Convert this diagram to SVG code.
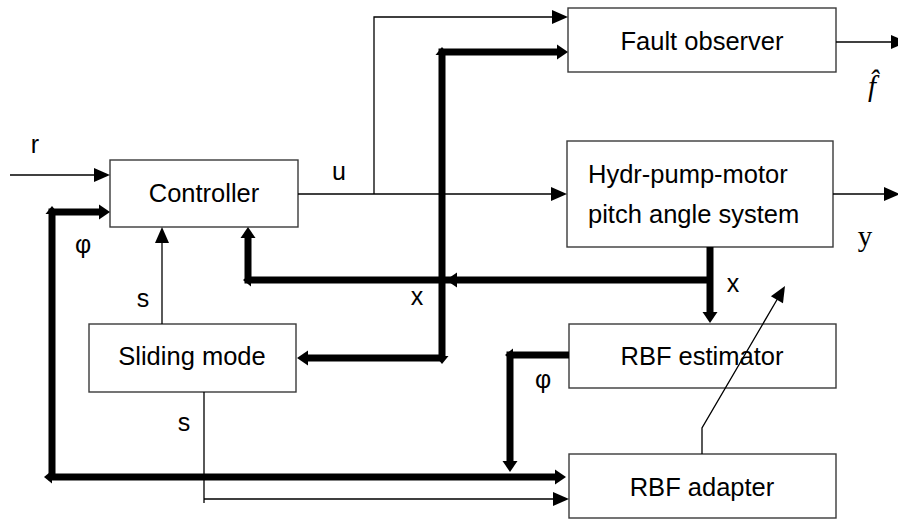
<svg xmlns="http://www.w3.org/2000/svg" xmlns:xlink="http://www.w3.org/1999/xlink" width="898" height="519" viewBox="0 0 898 519">
<style>
  .box { fill: #ffffff; stroke: #3a3a3a; stroke-width: 1.4; }
  .lbl { font-family: "Liberation Sans", Arial, sans-serif; font-size: 25.5px; fill: #000; }
  .mid { text-anchor: middle; }
  .sym { font-family: "Liberation Sans", Arial, sans-serif; font-size: 25px; fill: #000; text-anchor: middle; }
  .ser { font-family: "Liberation Serif", "Times New Roman", serif; font-size: 29px; fill: #000; text-anchor: middle; }
  .thin { fill: none; stroke: #000; stroke-width: 1.3; }
  .thick { fill: none; stroke: #000; stroke-width: 7; stroke-linejoin: miter; }
  .ah { fill: #000; }
</style>
<defs>
  <path id="tah" d="M-16,-7 L0,0 L-16,7 Z"/>
  <path id="kah" d="M-11,-7.5 L0,0 L-11,7.5 Z"/>
  <path id="stub" d="M-8,-6.5 L0,0 L-8,6.5 Z"/>
</defs>
<rect width="898" height="519" fill="#ffffff"/>

<g id="controller">
  <rect class="box" x="110" y="160" width="188" height="67"/>
  <text class="lbl mid" x="204" y="202">Controller</text>
</g>
<g id="fault-observer">
  <rect class="box" x="568" y="8" width="268" height="64"/>
  <text class="lbl mid" x="702" y="50">Fault observer</text>
</g>
<g id="hydr-system">
  <rect class="box" x="567" y="141" width="266" height="106"/>
  <text class="lbl" x="588" y="183">Hydr-pump-motor</text>
  <text class="lbl" x="588" y="223">pitch angle system</text>
</g>
<g id="sliding-mode">
  <rect class="box" x="89" y="324" width="207" height="68"/>
  <text class="lbl mid" x="192" y="365">Sliding mode</text>
</g>
<g id="rbf-estimator">
  <rect class="box" x="569" y="324" width="267" height="64"/>
  <text class="lbl mid" x="702" y="365">RBF estimator</text>
</g>
<g id="rbf-adapter">
  <rect class="box" x="569" y="454" width="267" height="64"/>
  <text class="lbl mid" x="702" y="496">RBF adapter</text>
</g>

<g id="connectors">
  <!-- thin connectors -->
  <path class="thin" d="M10,175 H96"/>
  <use href="#tah" class="ah" transform="translate(110,175)"/>
  <path class="thin" d="M298,194 H553"/>
  <use href="#tah" class="ah" transform="translate(567,194)"/>
  <path class="thin" d="M374,194 V17 H554"/>
  <use href="#tah" class="ah" transform="translate(568,17)"/>
  <path class="thin" d="M836,42 H893"/>
  <use href="#tah" class="ah" transform="translate(907,42)"/>
  <path class="thin" d="M833,194 H886"/>
  <use href="#tah" class="ah" transform="translate(900,194)"/>
  <path class="thin" d="M162,324 V242"/>
  <use href="#tah" class="ah" transform="translate(162,227) rotate(-90)"/>
  <path class="thin" d="M204,392 V503 M204,499 H555"/>
  <use href="#tah" class="ah" transform="translate(569,499)"/>
  <path class="thin" d="M702,454 V428 L778,298"/>
  <use href="#tah" class="ah" transform="translate(785,286) rotate(-59.7)"/>

  <!-- thick connectors -->
  <path class="thick" d="M710,247 V313"/>
  <use href="#kah" class="ah" transform="translate(710,323) rotate(90)"/>
  <path class="thick" d="M710,280 H248 V238"/>
  <use href="#kah" class="ah" transform="translate(248,227) rotate(-90)"/>
  <use href="#kah" class="ah" transform="translate(446,280) rotate(180)"/>
  <use href="#stub" class="ah" transform="translate(243,280) rotate(180)"/>
  <path class="thick" d="M442,358 V52 H558"/>
  <use href="#kah" class="ah" transform="translate(568,52)"/>
  <path class="thick" d="M442,358 H307"/>
  <use href="#kah" class="ah" transform="translate(297,358) rotate(180)"/>
  <use href="#stub" class="ah" transform="translate(442,47) rotate(-90)"/>
  <use href="#stub" class="ah" transform="translate(442,364) rotate(90)"/>
  <path class="thick" d="M569,355 H510 V462"/>
  <use href="#kah" class="ah" transform="translate(510,472) rotate(90)"/>
  <use href="#stub" class="ah" transform="translate(505,355) rotate(180)"/>
  <path class="thick" d="M100,212 H52 V477 H556"/>
  <use href="#kah" class="ah" transform="translate(110,212)"/>
  <use href="#kah" class="ah" transform="translate(566,477)"/>
  <use href="#stub" class="ah" transform="translate(52,206) rotate(-90)"/>
  <use href="#stub" class="ah" transform="translate(44,477) rotate(180)"/>
</g>

<g id="labels">
  <text class="sym" x="35" y="153">r</text>
  <text class="sym" x="339" y="180">u</text>
  <text class="sym" x="143" y="307">s</text>
  <text class="sym" x="184" y="431">s</text>
  <text class="sym" x="417" y="305">x</text>
  <text class="sym" x="733" y="292">x</text>
  <text class="sym" x="83" y="253">φ</text>
  <text class="sym" x="543" y="388">φ</text>
  <text class="ser" x="872" y="96" font-style="italic">f̂</text>
  <text class="ser" x="865" y="246">y</text>
</g>
</svg>
